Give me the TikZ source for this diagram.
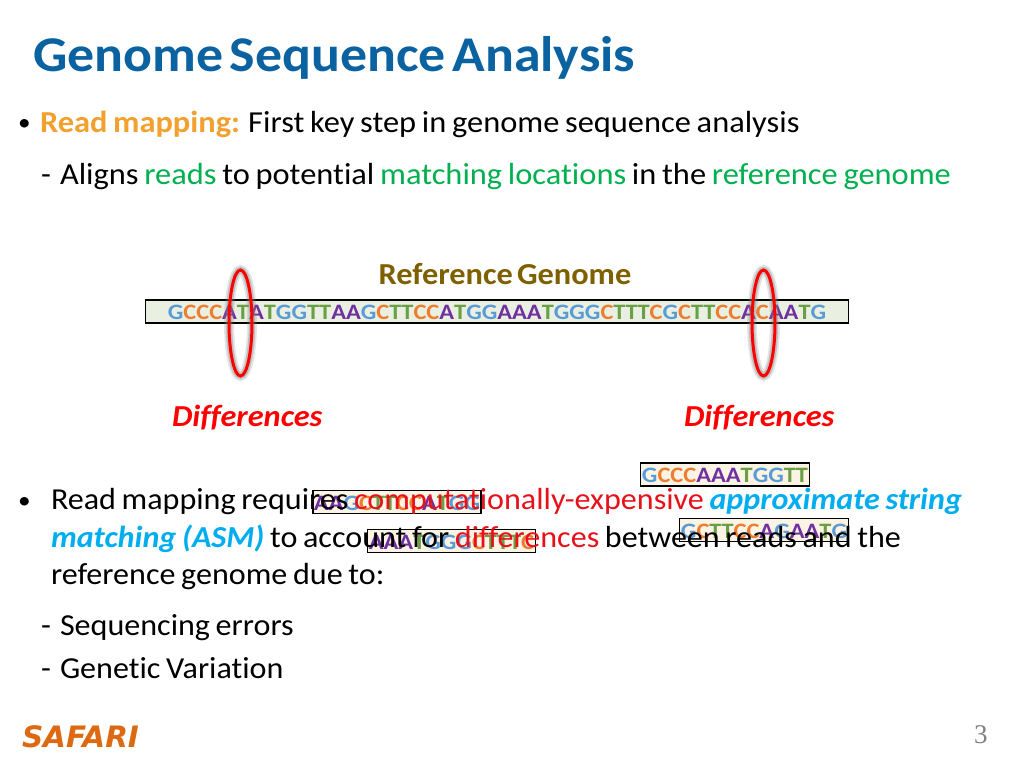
\documentclass[tikz,border=0pt]{standalone}
\usepackage{fontspec}
\setmainfont[FakeStretch=1.052,WordSpace=0.78,Ligatures=NoCommon]{Carlito}
\newfontfamily\upperfont[FakeStretch=1.063,WordSpace=0.78,Ligatures=NoCommon]{Carlito}
\newfontfamily\titlefont[FakeStretch=1.077,WordSpace=0.55,Ligatures=NoCommon]{Carlito}
\newfontfamily\seqfont[FakeStretch=1.11]{Carlito}
\newfontfamily\difffont[FakeStretch=1.06,WordSpace=0.6,Ligatures=NoCommon]{Carlito}
\newfontfamily\safarifont{DejaVu Sans}
\newfontfamily\numfont{Liberation Serif}
\definecolor{titleblue}{HTML}{0A62A0}
\definecolor{keyorange}{HTML}{F2A02E}
\definecolor{keygreen}{HTML}{00B050}
\definecolor{keyred}{HTML}{E8101A}
\definecolor{keycyan}{HTML}{00AEEF}
\definecolor{refbrown}{HTML}{7F6000}
\definecolor{baseA}{HTML}{7030A0}
\definecolor{baseC}{HTML}{ED7D31}
\definecolor{baseG}{HTML}{5B9BD5}
\definecolor{baseT}{HTML}{6AA045}
\definecolor{reffill}{HTML}{E9F0E2}
\definecolor{readfill}{HTML}{FBF3E4}
\definecolor{safariorange}{HTML}{DD6A12}
\newcommand\bA{\textcolor{baseA}{A}}
\newcommand\bC{\textcolor{baseC}{C}}
\newcommand\bG{\textcolor{baseG}{G}}
\newcommand\bT{\textcolor{baseT}{T}}
\newcommand\kg[1]{\textcolor{keygreen}{#1}}
\newcommand\kr[1]{\textcolor{keyred}{#1}}
\newcommand\kc[1]{\textcolor{keycyan}{\textbf{\textit{#1}}}}
\tikzset{
  x=1pt,y=-1pt,
  txt/.style={anchor=base west,inner sep=0pt,outer sep=0pt,font=\fontsize{30.5}{36}\selectfont},
  uppertxt/.style={txt,font=\upperfont\fontsize{30.5}{36}\selectfont},
  bullet/.style={txt,font=\fontsize{24}{28}\selectfont},
  seqbox/.style={draw=black,line width=1.6pt,minimum height=23pt,inner sep=0pt,anchor=center},
  seqtxt/.style={font=\seqfont\fontsize{22}{26}\selectfont\bfseries,inner sep=0pt,anchor=center},
  diffhaloa/.style={draw=gray,opacity=0.2,line width=10pt},
  diffhalob/.style={draw=gray,opacity=0.35,line width=6.5pt},
  diffring/.style={draw=red,line width=3pt},
  diffword/.style={txt,text=red,font=\difffont\fontsize{30.5}{36}\selectfont\bfseries\itshape},
}
\begin{document}
\begin{tikzpicture}
\useasboundingbox (0,0) rectangle (1024,768);
\fill[white] (0,0) rectangle (1024,768);
% title
\node[txt,text=titleblue,font=\titlefont\fontsize{50}{58}\selectfont\bfseries] (title) at (33,71) {Genome Sequence Analysis};
% reads boxes (behind text)
\node[seqbox,fill=readfill,minimum width=168pt] (read1) at (397,502) {};
\node[seqtxt] (read1t) at (397,503) {\bA\bA\bG\bC\bT\bT\bC\bC\bA\bT\bG\bG};
\node[seqbox,fill=readfill,minimum width=168pt] (read2) at (451.5,541) {};
\node[seqtxt] (read2t) at (451.5,542) {\bA\bA\bA\bT\bG\bG\bG\bC\bT\bT\bT\bC};
\node[seqbox,fill=readfill,minimum width=169pt] (read3) at (725,474.5) {};
\node[seqtxt] (read3t) at (725,475.5) {\bG\bC\bC\bC\bA\bA\bA\bT\bG\bG\bT\bT};
\node[seqbox,fill=readfill,minimum width=169pt] (read4) at (764,530) {};
\node[seqtxt] (read4t) at (764,531) {\bG\bC\bT\bT\bC\bC\bA\bG\bA\bA\bT\bG};
% body
\node[bullet] (b1) at (18,130) {•};
\node[uppertxt] (l1) at (40,132) {\textcolor{keyorange}{\textbf{Read mapping:}} First key step in genome sequence analysis};
\node[txt] (d1) at (41,184) {-};
\node[uppertxt] (l2) at (60,184) {Aligns \kg{reads} to potential \kg{matching locations} in the \kg{reference genome}};
\node[txt,text=refbrown,font=\difffont\fontsize{30.5}{36}\selectfont\bfseries,anchor=base] (ref) at (505,284) {Reference Genome};
% reference
\node[seqbox,fill=reffill,minimum width=703pt] (genome) at (497,311.5) {};
\node[seqtxt] (genomet) at (497,312.5) {\bG\bC\bC\bC\bA\bT\bA\bT\bG\bG\bT\bT\bA\bA\bG\bC\bT\bT\bC\bC\bA\bT\bG\bG\bA\bA\bA\bT\bG\bG\bG\bC\bT\bT\bT\bC\bG\bC\bT\bT\bC\bC\bA\bC\bA\bA\bT\bG};
% differences
\path[diffhaloa] (240.5,323) ellipse [x radius=11.5,y radius=53];
\path[diffhaloa] (763.5,323) ellipse [x radius=11.5,y radius=53];
\path[diffhalob] (240.5,323) ellipse [x radius=11.5,y radius=53];
\path[diffhalob] (763.5,323) ellipse [x radius=11.5,y radius=53];
\path[diffring] (240.5,323) ellipse [x radius=11.5,y radius=53];
\path[diffring] (763.5,323) ellipse [x radius=11.5,y radius=53];
\node[diffword] (diffl) at (172,426) {Differences};
\node[diffword] (diffr) at (684,426) {Differences};
% lower text
\node[bullet] (b2) at (18,508) {•};
\node[txt] (l3) at (51,509) {Read mapping requires \kr{computationally-expensive} \kc{approximate string}};
\node[txt] (l4) at (51,547) {\kc{matching (ASM)} to account for \kr{differences} between reads and the};
\node[txt] (l5) at (51,584) {reference genome due to:};
\node[txt] (d2) at (41,635) {-};
\node[txt] (l6) at (60,635) {Sequencing errors};
\node[txt] (d3) at (41,678) {-};
\node[txt] (l7) at (60,678) {Genetic Variation};
% footer
\node[txt,text=safariorange,font=\fontsize{29.5}{34}\safarifont\bfseries\itshape] (safari) at (22,747) {SAFARI};
\node[txt,text=gray,font=\fontsize{27}{32}\numfont] (page) at (974,743) {3};
\end{tikzpicture}
\end{document}
